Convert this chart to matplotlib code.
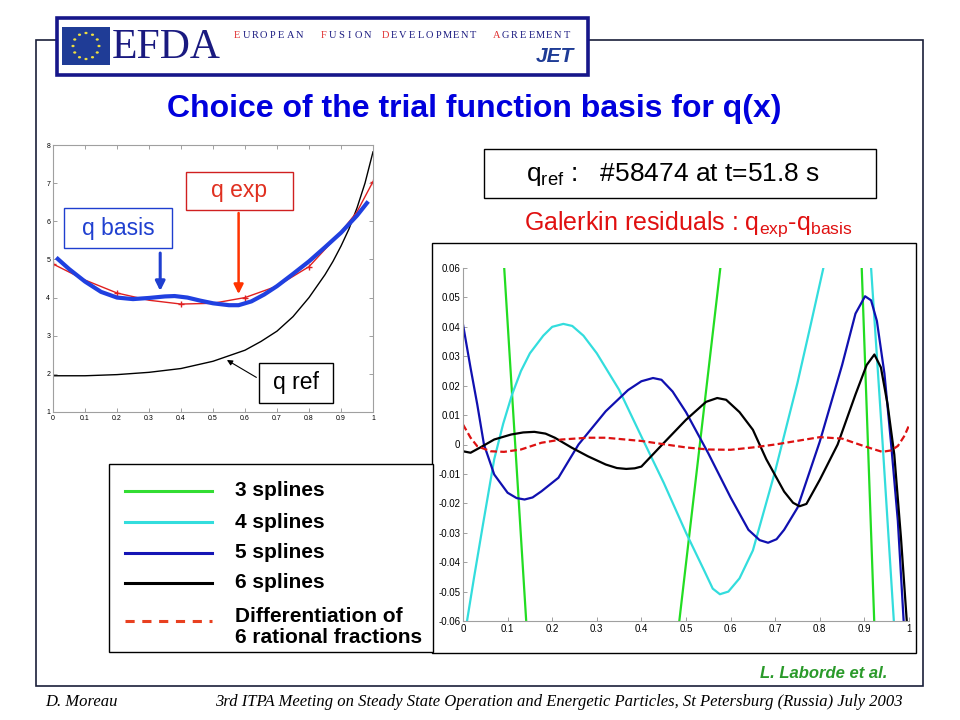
import numpy as np
import matplotlib
matplotlib.use('Agg')
from matplotlib import pyplot as plt
from matplotlib.patches import Rectangle, Circle

plt.rcParams['font.family'] = ['Liberation Sans', 'DejaVu Sans']

# ---- left plot : q profiles ----
x_ref = [0, 0.1, 0.2, 0.3, 0.4, 0.5, 0.6, 0.65, 0.7, 0.75, 0.8, 0.85, 0.875, 0.9, 0.925, 0.95, 0.975, 1.0]
q_ref = [1.95, 1.95, 1.98, 2.04, 2.14, 2.33, 2.62, 2.85, 3.12, 3.5, 4.0, 4.6, 4.95, 5.35, 5.8, 6.35, 7.0, 7.82]

x_exp = [0, 0.1, 0.2, 0.3, 0.4, 0.5, 0.6, 0.7, 0.8, 0.9, 0.95, 1.0]
q_exp = [4.88, 4.46, 4.12, 3.93, 3.83, 3.85, 4.0, 4.3, 4.81, 5.72, 6.25, 7.04]
exp_marks = [0, 2, 4, 6, 8, 11]

x_bas = [0.01, 0.05, 0.1, 0.15, 0.2, 0.25, 0.3, 0.35, 0.38, 0.42, 0.46, 0.5, 0.55, 0.58,
         0.62, 0.66, 0.7, 0.75, 0.8, 0.85, 0.9, 0.95, 0.985]
q_bas = [5.05, 4.75, 4.42, 4.15, 4.0, 3.96, 3.99, 4.03, 4.04, 4.0, 3.92, 3.85, 3.8, 3.8,
         3.9, 4.08, 4.3, 4.62, 4.95, 5.32, 5.7, 6.15, 6.52]

# ---- right plot : Galerkin residuals ----
x_g3 = [0.0924, 0.1417, np.nan, 0.485, 0.577, np.nan, 0.894, 0.922]
r_g3 = [0.06, -0.06, np.nan, -0.06, 0.06, np.nan, 0.06, -0.06]

x_c4 = [0.009, 0.025, 0.045, 0.07, 0.09, 0.11, 0.13, 0.15, 0.18, 0.2, 0.225, 0.245, 0.27, 0.3,
        0.35, 0.4, 0.45, 0.5, 0.54, 0.56, 0.576, 0.595, 0.62, 0.65, 0.7, 0.75, 0.78, 0.808,
        np.nan, 0.915, 0.941, 0.966]
r_c4 = [-0.06, -0.045, -0.027, -0.005, 0.007, 0.017, 0.025, 0.031, 0.037, 0.0400, 0.041, 0.0403,
        0.037, 0.031, 0.0186, 0.0027, -0.013, -0.030, -0.0426, -0.0490, -0.0509, -0.0500,
        -0.0455, -0.036, -0.009, 0.021, 0.041, 0.06, np.nan, 0.06, 0.0, -0.06]

x_b5 = [0.0, 0.017, 0.032, 0.047, 0.07, 0.1, 0.12, 0.138, 0.156, 0.176, 0.214, 0.259, 0.32,
        0.37, 0.4, 0.426, 0.445, 0.47, 0.5, 0.55, 0.6, 0.64, 0.665, 0.684, 0.703, 0.72, 0.75,
        0.8, 0.85, 0.88, 0.9015, 0.915, 0.928, 0.945, 0.96, 0.975, 0.988]
r_b5 = [0.0408, 0.026, 0.0136, 0.0, -0.0102, -0.0164, -0.0182, -0.0187, -0.0180, -0.0159,
        -0.0113, 0.0, 0.0113, 0.0185, 0.0215, 0.0226, 0.0220, 0.0180, 0.011, -0.003, -0.018,
        -0.029, -0.0325, -0.0334, -0.0322, -0.029, -0.0215, 0.001, 0.027, 0.0445, 0.0504, 0.0490,
        0.0420, 0.0240, 0.0, -0.026, -0.06]

x_k6 = [0.0, 0.017, 0.04, 0.07, 0.108, 0.135, 0.16, 0.185, 0.206, 0.244, 0.28, 0.32, 0.345,
        0.366, 0.385, 0.4, 0.45, 0.5, 0.545, 0.57, 0.59, 0.62, 0.65, 0.68, 0.7, 0.72, 0.74,
        0.7545, 0.77, 0.8, 0.84, 0.88, 0.905, 0.9224, 0.937, 0.952, 0.967, 0.982, 0.995]
r_k6 = [-0.0023, -0.0028, -0.0009, 0.0017, 0.0034, 0.0041, 0.0043, 0.0037, 0.0023, -0.0011,
        -0.004, -0.0068, -0.0080, -0.0083, -0.0081, -0.0075, 0.0005, 0.0084, 0.0145, 0.0158,
        0.0152, 0.0110, 0.005, -0.005, -0.0105, -0.016, -0.0198, -0.021, -0.0202, -0.012, 0.0,
        0.017, 0.0270, 0.0306, 0.0262, 0.0136, -0.0034, -0.0317, -0.06]

x_rf = [0.0, 0.017, 0.032, 0.062, 0.092, 0.13, 0.176, 0.221, 0.28, 0.32, 0.4, 0.5, 0.55, 0.6,
        0.65, 0.7, 0.8, 0.85, 0.9, 0.94, 0.96, 0.975, 0.99, 1.0]
r_rf = [0.0068, 0.0023, -0.0006, -0.0023, -0.0025, -0.0017, 0.0006, 0.0017, 0.0023, 0.0023,
        0.0012, -0.001, -0.0017, -0.0018, -0.001, 0.0, 0.0025, 0.002, -0.0006, -0.0025, -0.002,
        -0.0005, 0.003, 0.0065]

leg_labels = ['3 splines', '4 splines', '5 splines', '6 splines',
              'Differentiation of\n6 rational fractions']

W, H = 960, 720
fig = plt.figure(figsize=(9.6, 7.2), dpi=100)


def fx(x):
    return x / W


def fy(y):
    return 1 - y / H


def frame(x0, y0, x1, y1, ec='black', lw=1.0, fc='none', z=1):
    r = Rectangle((fx(x0), fy(y1)), fx(x1 - x0), (y1 - y0) / H, transform=fig.transFigure,
                  fc=fc, ec=ec, lw=lw, zorder=z)
    fig.patches.append(r)


# slide frame
frame(36, 40, 923, 686, ec='#1a1f3a', lw=1.2)

# logo
frame(57, 18, 588, 75, ec='#16168a', lw=2.6, fc='white', z=2)
frame(62, 27, 110, 65, ec='none', fc='#1f3c96', z=3)
for k in range(12):
    a = 2 * np.pi * k / 12
    fig.patches.append(Circle((fx(86 + 13 * np.cos(a)), fy(46 + 13 * np.sin(a))), 1.6 / W,
                              transform=fig.transFigure, fc='#f0e040', ec='none', zorder=4))
fig.text(fx(112), fy(48), 'EFDA', family='Liberation Serif', fontsize=30, color='#1a1a80',
         va='center', ha='left', zorder=5)
pitch = 8.8
for word, x0 in [('EUROPEAN', 233), ('FUSION', 319), ('DEVELOPMENT', 381), ('AGREEMENT', 492)]:
    for i, ch in enumerate(word):
        fig.text(fx(x0 + i * pitch + pitch / 2), fy(36), ch, family='Liberation Serif', fontsize=7.5,
                 color='#e03030' if i == 0 else '#1a1a80', va='center', ha='center', zorder=5)
fig.text(fx(574), fy(56), 'JET', fontsize=15, fontweight='bold', style='italic',
         color='#1f3c96', ha='right', va='center', zorder=5)

# title
fig.text(fx(474), fy(109), 'Choice of the trial function basis for q(x)', fontsize=23,
         fontweight='bold', color='#0000dd', ha='center', va='center')

# left axes
ax1 = fig.add_axes([fx(53), fy(412), fx(320), 267 / H])
ax1.plot(x_ref, q_ref, color='black', lw=1.0)
ax1.plot(x_exp, q_exp, color='#e02020', lw=1.0, marker='+', ms=4, markevery=exp_marks)
ax1.plot(x_bas, q_bas, color='#2040e0', lw=3.0, solid_capstyle='butt')
ax1.set_xlim(0, 1)
ax1.set_ylim(1, 8)
ax1.set_xticks(np.arange(0, 1.01, 0.1))
ax1.set_xticklabels(['0', '0.1', '0.2', '0.3', '0.4', '0.5', '0.6', '0.7', '0.8', '0.9', '1'])
ax1.set_yticks(range(1, 9))
ax1.tick_params(direction='in', length=3, width=0.6, labelsize=5, color='#909090', pad=2,
                top=True, right=True)
for s in ax1.spines.values():
    s.set_color('#a0a0a0')
    s.set_linewidth(0.8)

ax1.annotate('', xy=(0.335, 4.1), xytext=(0.335, 5.24),
             arrowprops=dict(arrowstyle='-|>', color='#1f3fd0', lw=2.2, mutation_scale=14))
ax1.annotate('', xy=(0.58, 4.02), xytext=(0.58, 6.29),
             arrowprops=dict(arrowstyle='-|>', color='#ff3300', lw=1.8, mutation_scale=14))
ax1.annotate('', xy=(0.536, 2.4), xytext=(0.643, 1.87),
             arrowprops=dict(arrowstyle='-|>', color='black', lw=0.8, mutation_scale=8))

frame(64, 208, 172, 248, ec='#1f3fcf', lw=1.0, fc='white', z=5)
fig.text(fx(118), fy(228), 'q basis', fontsize=16.5, color='#2040d0', ha='center', va='center', zorder=6)
frame(186, 172, 293, 210, ec='#d02020', lw=1.0, fc='white', z=5)
fig.text(fx(239.5), fy(190), 'q exp', fontsize=16.5, color='#e03020', ha='center', va='center', zorder=6)
frame(259, 363, 333, 403, ec='black', lw=1.0, fc='white', z=5)
fig.text(fx(296), fy(382), 'q ref', fontsize=16.5, color='black', ha='center', va='center', zorder=6)

# q_ref box and residual title
frame(484, 149, 876, 198, ec='black', lw=1.0)
fig.text(fx(673), fy(175), r'q$_{\mathregular{ref}}$ :   #58474 at t=51.8 s', fontsize=19,
         color='black', ha='center', va='center')
fig.text(fx(688), fy(224), r'Galerkin residuals : q$_{\mathregular{exp}}$-q$_{\mathregular{basis}}$',
         fontsize=18, color='#e01010', ha='center', va='center')

# right panel
frame(432, 243, 916, 653, ec='black', lw=1.0)
ax2 = fig.add_axes([fx(463), fy(621), fx(446), 353 / H])
ax2.plot(x_g3, r_g3, color='#22dd22', lw=1.6)
ax2.plot(x_c4, r_c4, color='#33dddd', lw=1.6)
ax2.plot(x_b5, r_b5, color='#1010b0', lw=1.6)
ax2.plot(x_k6, r_k6, color='black', lw=1.6)
ax2.plot(x_rf, r_rf, color='#dd1111', lw=1.6, ls=(0, (3, 1.5)))
ax2.set_xlim(0, 1)
ax2.set_ylim(-0.06, 0.06)
ax2.set_xticks(np.arange(0, 1.01, 0.1))
ax2.set_xticklabels(['0', '0.1', '0.2', '0.3', '0.4', '0.5', '0.6', '0.7', '0.8', '0.9', '1'])
yt = np.round(np.arange(-0.06, 0.061, 0.01), 2)
ax2.set_yticks(yt)
ax2.set_yticklabels(['%g' % v if v != 0 else '0' for v in yt])
ax2.tick_params(direction='in', length=3, width=0.6, labelsize=7, color='#909090', pad=2)
for side in ['top', 'right']:
    ax2.spines[side].set_visible(False)
for side in ['left', 'bottom']:
    ax2.spines[side].set_color('#a0a0a0')
    ax2.spines[side].set_linewidth(0.8)

# legend panel
frame(109, 464, 433, 652, ec='black', lw=1.0, fc='white', z=3)
leg_styles = [('#33dd33', '-'), ('#33dddd', '-'), ('#1515b5', '-'), ('black', '-'),
              ('#e84020', (0, (3, 2.5)))]
leg_y = [491, 522, 553, 583, 621]
for (c, ls), y, lab in zip(leg_styles, leg_y, leg_labels):
    fig.add_artist(plt.Line2D([fx(125), fx(212)], [fy(y), fy(y)], color=c, lw=2.2, ls=ls,
                              transform=fig.transFigure, zorder=4))
    ty = y if '\n' not in lab else 627
    fig.text(fx(235), fy(ty), lab, fontsize=15, fontweight='bold', color='black',
             ha='left', va='center', linespacing=1.15, zorder=5)

fig.text(fx(887), fy(673), 'L. Laborde et al.', fontsize=12, fontweight='bold', style='italic',
         color='#2a9a2a', ha='right', va='center')

# footer
fig.text(fx(45), fy(702), 'D. Moreau', family='Liberation Serif', style='italic', fontsize=12,
         ha='left', va='center')
fig.text(fx(903), fy(702), '3rd ITPA Meeting on Steady State Operation and Energetic Particles, '
         'St Petersburg (Russia) July 2003', family='Liberation Serif', style='italic',
         fontsize=12, ha='right', va='center')

fig.savefig('out.png', dpi=100)
